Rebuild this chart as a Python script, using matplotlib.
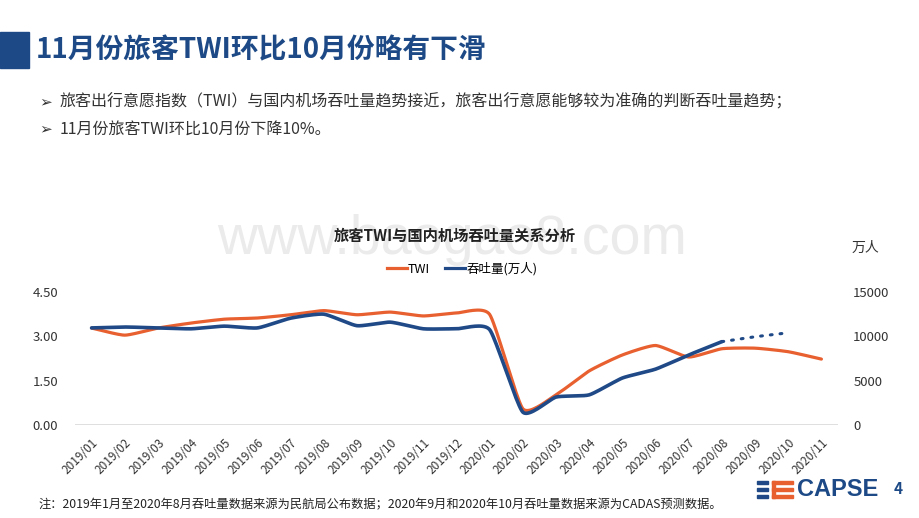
import numpy as np
import matplotlib
matplotlib.use("Agg")
import matplotlib.pyplot as plt
from matplotlib.lines import Line2D
from matplotlib.patches import Rectangle

plt.rcParams['font.family'] = ['Noto Sans CJK SC', 'DejaVu Sans']

# data
months = ["2019/01", "2019/02", "2019/03", "2019/04", "2019/05", "2019/06",
          "2019/07", "2019/08", "2019/09", "2019/10", "2019/11", "2019/12",
          "2020/01", "2020/02", "2020/03", "2020/04", "2020/05", "2020/06",
          "2020/07", "2020/08", "2020/09", "2020/10", "2020/11"]
twi = [3.28, 3.04, 3.28, 3.45, 3.58, 3.62, 3.73, 3.87, 3.73, 3.82, 3.69, 3.79,
       3.74, 0.55, 1.02, 1.83, 2.37, 2.69, 2.30, 2.58, 2.60, 2.48, 2.23]
throughput = [10950, 11050, 10950, 10850, 11150, 10950, 12050, 12500, 11200,
              11600, 10850, 10850, 10750, 1450, 3150, 3400, 5300, 6300, 7900, 9400]
throughput_pred = [9400, 9950, 10400]   # 2020/08 - 2020/10, CADAS forecast

orange = "#E8602F"
blue = "#1F4A87"
title_blue = "#1D4A86"


def smooth(x, y, n=20, k=0.55):
    # cubic curve through the points (reduced-tension Catmull-Rom)
    x = np.asarray(x, float)
    y = np.asarray(y, float)
    px = np.concatenate([[2 * x[0] - x[1]], x, [2 * x[-1] - x[-2]]])
    py = np.concatenate([[2 * y[0] - y[1]], y, [2 * y[-1] - y[-2]]])
    xs, ys = [], []
    t = np.linspace(0, 1, n, endpoint=False)
    h00 = 2 * t ** 3 - 3 * t ** 2 + 1
    h10 = t ** 3 - 2 * t ** 2 + t
    h01 = -2 * t ** 3 + 3 * t ** 2
    h11 = t ** 3 - t ** 2
    for i in range(1, len(px) - 2):
        for p, out in ((px, xs), (py, ys)):
            m1 = k * (p[i + 1] - p[i - 1]) / 2
            m2 = k * (p[i + 2] - p[i]) / 2
            out.extend(h00 * p[i] + h10 * m1 + h01 * p[i + 1] + h11 * m2)
    xs.append(x[-1])
    ys.append(y[-1])
    return np.array(xs), np.array(ys)


fig = plt.figure(figsize=(9.2, 5.18), dpi=100)

# header
fig.patches.append(Rectangle((0, 1 - 68 / 518), 29 / 920, 36 / 518,
                             transform=fig.transFigure, color=title_blue))
fig.text(36 / 920, 1 - 50 / 518, "11月份旅客TWI环比10月份略有下滑",
         fontsize=20, fontweight="bold", color=title_blue, va="center")
fig.text(39 / 920, 1 - 102 / 518, "➢", fontsize=11, color="#333333", va="center")
fig.text(60 / 920, 1 - 102 / 518,
         "旅客出行意愿指数（TWI）与国内机场吞吐量趋势接近，旅客出行意愿能够较为准确的判断吞吐量趋势；",
         fontsize=11.5, color="#333333", va="center")
fig.text(39 / 920, 1 - 129 / 518, "➢", fontsize=11, color="#333333", va="center")
fig.text(60 / 920, 1 - 129 / 518, "11月份旅客TWI环比10月份下降10%。",
         fontsize=11.5, color="#333333", va="center")

# watermark
fig.text(452 / 920, 1 - 240 / 518, "www.baogao8.com", fontsize=40,
         color="#EBEBEB", ha="center", va="center", family="Liberation Sans")

# chart title
fig.text(455 / 920, 1 - 236 / 518, "旅客TWI与国内机场吞吐量关系分析",
         fontsize=11, fontweight="bold", color="#222222", ha="center", va="center")

ax = fig.add_axes([75 / 920, 1 - 425 / 518, 763 / 920, 133 / 518])
ax.patch.set_alpha(0)
ax2 = ax.twinx()

x = np.arange(len(months))
sx, sy = smooth(x, twi)
ax.plot(sx, sy, color=orange, lw=2.3, solid_capstyle="round")
bx, by = smooth(x[:len(throughput)], throughput)
ax2.plot(bx, by, color=blue, lw=2.6, solid_capstyle="round")
px = x[len(throughput) - 1:len(throughput) - 1 + len(throughput_pred)]
dx, dy = smooth(px, throughput_pred)
ax2.plot(dx, dy, color=blue, lw=2.2, linestyle=(0, (0.6, 2.6)),
         dash_capstyle="round")

ax.set_xlim(-0.5, len(months) - 0.5)
ax.set_ylim(0, 4.5)
ax2.set_ylim(0, 15000)
ax.set_yticks([0, 1.5, 3.0, 4.5])
ax.set_yticklabels(["0.00", "1.50", "3.00", "4.50"])
ax2.set_yticks([0, 5000, 10000, 15000])
ax.set_xticks(x)
ax.set_xticklabels(months, rotation=45, ha="right", rotation_mode="anchor",
                   fontsize=8.5, color="#333333")
ax.tick_params(axis="x", length=0, pad=8)
ax.tick_params(axis="y", length=0, pad=12, labelsize=9.5, labelcolor="#333333")
ax2.tick_params(axis="y", length=0, pad=11, labelsize=9.5, labelcolor="#333333")
for a in (ax, ax2):
    for s in a.spines.values():
        s.set_visible(False)
ax.axhline(0, color="#D9D9D9", lw=1.2, zorder=0)

fig.text(865 / 920, 1 - 248 / 518, "万人", fontsize=10, color="#333333",
         ha="center", va="center")

handles = [Line2D([], [], color=orange, lw=2.3),
           Line2D([], [], color=blue, lw=2.3)]
fig.legend(handles, ["TWI", "吞吐量(万人)"], loc="center",
           bbox_to_anchor=(462 / 920, 1 - 269 / 518), ncol=2, frameon=False,
           fontsize=9, handlelength=1.6, handletextpad=0.1, columnspacing=1.2)

# footnote
fig.text(38 / 920, 1 - 505 / 518,
         "注：2019年1月至2020年8月吞吐量数据来源为民航局公布数据；2020年9月和2020年10月吞吐量数据来源为CADAS预测数据。",
         fontsize=8.8, color="#222222", va="center")

# logo
for yy in [482, 489, 496]:
    fig.patches.append(Rectangle((757 / 920, 1 - (yy + 1.5) / 518), 11 / 920, 3 / 518,
                                 transform=fig.transFigure, color=blue))
    fig.patches.append(Rectangle((772 / 920, 1 - (yy + 1.5) / 518), 21 / 920, 3 / 518,
                                 transform=fig.transFigure, color=orange))
fig.patches.append(Rectangle((772 / 920, 1 - 497.5 / 518), 3 / 920, 17 / 518,
                             transform=fig.transFigure, color=orange))
fig.text(797 / 920, 1 - 489.5 / 518, "CAPSE", fontsize=17, fontweight="bold",
         color=title_blue, va="center", family="Liberation Sans")
fig.text(898 / 920, 1 - 489 / 518, "4", fontsize=11, fontweight="bold",
         color=title_blue, ha="center", va="center")

fig.savefig("out.png", dpi=100)
